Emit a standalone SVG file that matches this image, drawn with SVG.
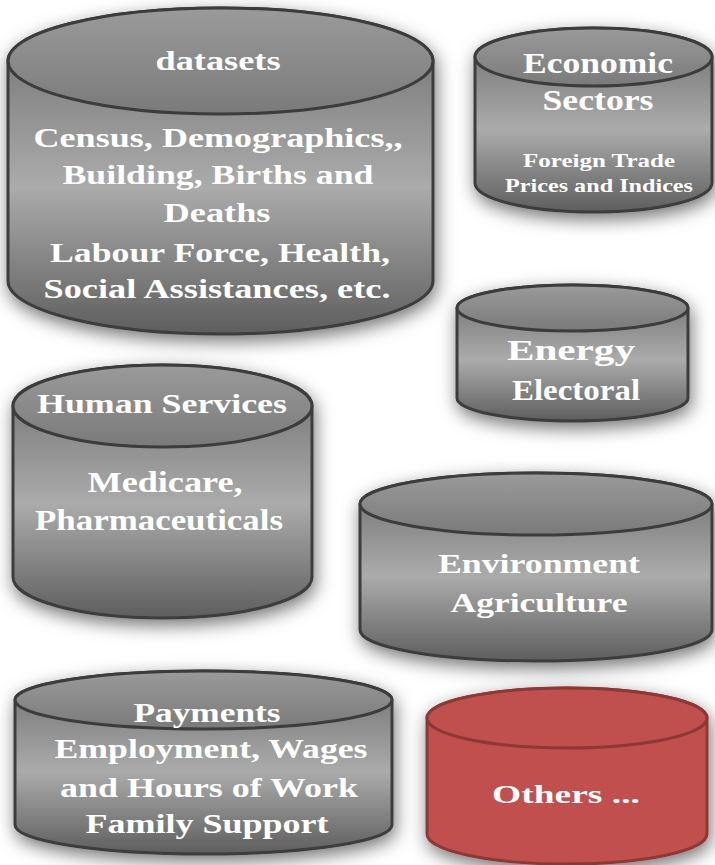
<svg xmlns="http://www.w3.org/2000/svg" width="715" height="865" viewBox="0 0 715 865">
<style>
.body{fill:url(#gBody);stroke:#3c3c3c;stroke-width:3}
.cap{fill:url(#gCap);stroke:#3c3c3c;stroke-width:3}
.rbody{fill:#c0504d;stroke:#8c3836;stroke-width:3}
.rcap{fill:#c0504d;stroke:#8c3836;stroke-width:3}
.t{fill:#ffffff;font-family:"Liberation Serif","Times New Roman",serif;font-weight:bold;text-anchor:middle}
.shape{filter:url(#sh)}
</style>
<defs>
<linearGradient id="gBody" x1="0" y1="0" x2="0" y2="1">
<stop offset="0" stop-color="#6c6c6c"/>
<stop offset="0.55" stop-color="#ababab"/>
<stop offset="1" stop-color="#5e5e5e"/>
</linearGradient>
<linearGradient id="gCap" x1="0" y1="0" x2="0" y2="1">
<stop offset="0" stop-color="#9a9a9a"/>
<stop offset="1" stop-color="#7a7a7a"/>
</linearGradient>
<filter id="sh" x="-15%" y="-15%" width="130%" height="140%">
<feDropShadow dx="2" dy="6" stdDeviation="9" flood-color="#000" flood-opacity="0.55"/>
</filter>
</defs>
<rect width="715" height="865" fill="#ffffff"/>

<g id="datasets">
<path class="body shape" d="M8 61 V281 A212.5 53 0 0 0 433 281 V61 A212.5 53 0 0 0 8 61 Z"/>
<ellipse class="cap" cx="220.5" cy="61" rx="212.5" ry="53"/>
<text class="t" transform="translate(218 0) scale(1.3 1)" x="0" y="70" font-size="27" textLength="96.2" lengthAdjust="spacingAndGlyphs">datasets</text>
<text class="t" transform="translate(218 0) scale(1.3 1)" x="0" y="147" font-size="28" textLength="283.8" lengthAdjust="spacingAndGlyphs">Census, Demographics,,</text>
<text class="t" transform="translate(218 0) scale(1.3 1)" x="0" y="184" font-size="28" textLength="239.2" lengthAdjust="spacingAndGlyphs">Building, Births and</text>
<text class="t" transform="translate(217 0) scale(1.3 1)" x="0" y="222" font-size="28" textLength="82.3" lengthAdjust="spacingAndGlyphs">Deaths</text>
<text class="t" transform="translate(220 0) scale(1.3 1)" x="0" y="262" font-size="28" textLength="261.5" lengthAdjust="spacingAndGlyphs">Labour Force, Health,</text>
<text class="t" transform="translate(217 0) scale(1.3 1)" x="0" y="298" font-size="28" textLength="266.9" lengthAdjust="spacingAndGlyphs">Social Assistances, etc.</text>
</g>

<g id="economic">
<path class="body shape" d="M475 57 V183 A118.5 29 0 0 0 712 183 V57 A118.5 29 0 0 0 475 57 Z"/>
<ellipse class="cap" cx="593.5" cy="57" rx="118.5" ry="29"/>
<text class="t" transform="translate(598 0) scale(1.3 1)" x="0" y="73" font-size="29" textLength="115.4" lengthAdjust="spacingAndGlyphs">Economic</text>
<text class="t" transform="translate(598 0) scale(1.3 1)" x="0" y="110" font-size="29" textLength="85.4" lengthAdjust="spacingAndGlyphs">Sectors</text>
<text class="t" transform="translate(599 0) scale(1.3 1)" x="0" y="167" font-size="18" textLength="116.9" lengthAdjust="spacingAndGlyphs">Foreign Trade</text>
<text class="t" transform="translate(599 0) scale(1.3 1)" x="0" y="192" font-size="18" textLength="144.6" lengthAdjust="spacingAndGlyphs">Prices and Indices</text>
</g>

<g id="energy">
<path class="body shape" d="M457 308 V398 A115.5 23 0 0 0 688 398 V308 A115.5 23 0 0 0 457 308 Z"/>
<ellipse class="cap" cx="572.5" cy="308" rx="115.5" ry="23"/>
<text class="t" transform="translate(571 0) scale(1.3 1)" x="0" y="360" font-size="30" textLength="98.5" lengthAdjust="spacingAndGlyphs">Energy</text>
<text class="t" transform="translate(576 0) scale(1.3 1)" x="0" y="400" font-size="30" textLength="98.5" lengthAdjust="spacingAndGlyphs">Electoral</text>
</g>

<g id="human">
<path class="body shape" d="M13 406 V577 A149.5 41 0 0 0 312 577 V406 A149.5 41 0 0 0 13 406 Z"/>
<ellipse class="cap" cx="162.5" cy="406" rx="149.5" ry="41"/>
<text class="t" transform="translate(162 0) scale(1.3 1)" x="0" y="413" font-size="27" textLength="192.3" lengthAdjust="spacingAndGlyphs">Human Services</text>
<text class="t" transform="translate(165 0) scale(1.3 1)" x="0" y="492" font-size="30" textLength="119.2" lengthAdjust="spacingAndGlyphs">Medicare,</text>
<text class="t" transform="translate(159 0) scale(1.3 1)" x="0" y="530" font-size="30" textLength="190.8" lengthAdjust="spacingAndGlyphs">Pharmaceuticals</text>
</g>

<g id="environment">
<path class="body shape" d="M360 504 V630 A176 31 0 0 0 712 630 V504 A176 31 0 0 0 360 504 Z"/>
<ellipse class="cap" cx="536" cy="504" rx="176" ry="31"/>
<text class="t" transform="translate(539 0) scale(1.3 1)" x="0" y="573" font-size="28" textLength="155.4" lengthAdjust="spacingAndGlyphs">Environment</text>
<text class="t" transform="translate(539 0) scale(1.3 1)" x="0" y="612" font-size="28" textLength="136.2" lengthAdjust="spacingAndGlyphs">Agriculture</text>
</g>

<g id="payments">
<path class="body shape" d="M15 700 V825 A188.5 29 0 0 0 392 825 V700 A188.5 29 0 0 0 15 700 Z"/>
<ellipse class="cap" cx="203.5" cy="700" rx="188.5" ry="29"/>
<text class="t" transform="translate(207 0) scale(1.3 1)" x="0" y="722" font-size="28" textLength="113.1" lengthAdjust="spacingAndGlyphs">Payments</text>
<text class="t" transform="translate(211 0) scale(1.3 1)" x="0" y="758" font-size="28" textLength="240.8" lengthAdjust="spacingAndGlyphs">Employment, Wages</text>
<text class="t" transform="translate(209 0) scale(1.3 1)" x="0" y="797" font-size="28" textLength="229.2" lengthAdjust="spacingAndGlyphs">and Hours of Work</text>
<text class="t" transform="translate(207 0) scale(1.3 1)" x="0" y="833" font-size="28" textLength="186.9" lengthAdjust="spacingAndGlyphs">Family Support</text>
</g>

<g id="others">
<path class="rbody shape" d="M427 718 V834 A140 30 0 0 0 707 834 V718 A140 30 0 0 0 427 718 Z"/>
<ellipse class="rcap" cx="567" cy="718" rx="140" ry="30"/>
<text class="t" transform="translate(566 0) scale(1.3 1)" x="0" y="803" font-size="26" textLength="113.8" lengthAdjust="spacingAndGlyphs">Others ...</text>
</g>

<g id="connectors"></g>
</svg>
